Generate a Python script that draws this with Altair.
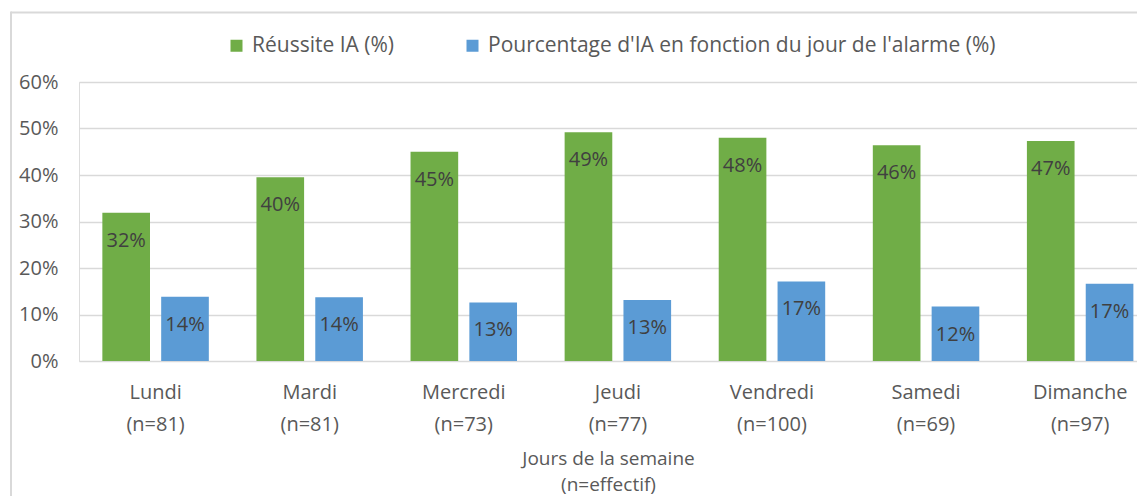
import altair as alt
import pandas as pd

days = ["Lundi", "Mardi", "Mercredi", "Jeudi", "Vendredi", "Samedi", "Dimanche"]
counts = [81, 81, 73, 77, 100, 69, 97]
success = [31.9, 39.5, 45.0, 49.2, 48.0, 46.4, 47.3]
share = [13.8, 13.7, 12.6, 13.1, 17.1, 11.7, 16.6]
series = ["Réussite IA (%)", "Pourcentage d'IA en fonction du jour de l'alarme (%)"]
colors = ["#70AD47", "#5B9BD5"]
y_ticks = [0, 10, 20, 30, 40, 50, 60]

rows = []
for d, n, s1, s2 in zip(days, counts, success, share):
    lab = f"{d}\n(n={n})"
    rows.append({"jour": lab, "serie": series[0], "val": s1})
    rows.append({"jour": lab, "serie": series[1], "val": s2})
df = pd.DataFrame(rows)
day_labels = [f"{d}\n(n={n})" for d, n in zip(days, counts)]

FONT = "Open Sans"
FS = 20

x_enc = alt.X(
    "jour:N",
    sort=day_labels,
    scale=alt.Scale(paddingInner=0.309, paddingOuter=0.0875, align=0.866),
    axis=alt.Axis(
        title=["Jours de la semaine", "(n=effectif)"],
        labelExpr="split(datum.label, '\\n')",
        labelAngle=0,
        labelFontSize=FS,
        labelFont=FONT,
        labelColor="#595959",
        labelLineHeight=32,
        labelPadding=21,
        labelBaseline="top",
        domain=False,
        ticks=False,
        tickSize=0,
        titleFont=FONT,
        titleFontSize=19,
        titleFontWeight="normal",
        titleColor="#595959",
        titleLineHeight=26,
        titlePadding=15,
    ),
)
xoff = alt.XOffset(
    "serie:N",
    sort=series,
    scale=alt.Scale(paddingInner=0.19, paddingOuter=0),
)
y_enc = alt.Y(
    "val:Q",
    scale=alt.Scale(domain=[0, 60], nice=False),
    axis=alt.Axis(
        title=None,
        values=y_ticks,
        labelExpr="datum.value + '%'",
        labelFontSize=FS,
        labelFont=FONT,
        labelColor="#595959",
        labelPadding=21,
        tickSize=0,
        ticks=False,
        domain=False,
        grid=True,
        gridColor="#D9D9D9",
        gridWidth=1.5,
    ),
)

base = alt.Chart(df)
bars = base.mark_bar(stroke=None).encode(
    x=x_enc,
    xOffset=xoff,
    y=y_enc,
    color=alt.Color(
        "serie:N",
        scale=alt.Scale(domain=series, range=colors),
        legend=alt.Legend(
            title=None,
            orient="none",
            legendX=147,
            legendY=-47,
            direction="horizontal",
            columns=2,
            columnPadding=67,
            symbolType="square",
            symbolSize=144,
            symbolStrokeWidth=0,
            labelFont=FONT,
            labelFontSize=21,
            labelColor="#595959",
            labelOffset=5,
            labelLimit=800,
        ),
    ),
)
labels = base.mark_text(
    font=FONT, fontSize=FS, color="#404040", baseline="middle", align="center", dy=28
).transform_calculate(
    txt="round(datum.val) + '%'"
).encode(
    x=alt.X("jour:N", sort=day_labels),
    xOffset=alt.XOffset("serie:N", sort=series),
    y="val:Q",
    text="txt:N",
)

frame_df = pd.DataFrame({"k": [0]})
frame_top = alt.Chart(frame_df).mark_rule(color="#D9D9D9", strokeWidth=2).encode(
    x=alt.value(-68), x2=alt.value(1200), y=alt.value(-69.5)
)
frame_left = alt.Chart(frame_df).mark_rule(color="#D9D9D9", strokeWidth=2).encode(
    x=alt.value(-68), y=alt.value(-70.5), y2=alt.value(500)
)

chart = (
    alt.layer(frame_top, frame_left, bars, labels)
    .properties(
        width=1058,
        height=279,
        autosize=alt.AutoSizeParams(type="none"),
        padding={"left": 71, "top": 74, "right": 0, "bottom": 135},
    )
    .configure_view(stroke=None)
    .configure(background="white")
)

chart.save("out.html", embed_options={"renderer": "svg", "actions": False})
